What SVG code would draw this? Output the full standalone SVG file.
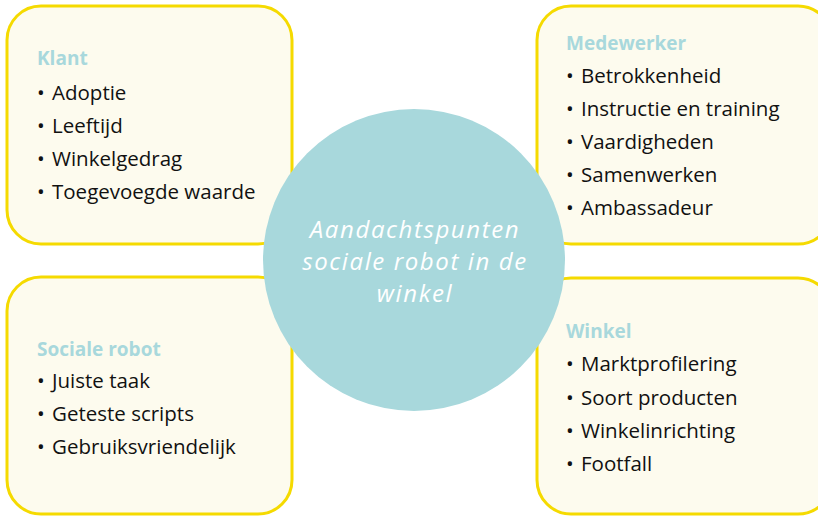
<svg xmlns="http://www.w3.org/2000/svg" width="818" height="516" viewBox="0 0 818 516">
<style>
.box{fill:#fdfbee;stroke:#f5da00;stroke-width:3}
.h{font-family:"Open Sans","Noto Sans",sans-serif;font-weight:bold;font-size:19px;fill:#a8d8dc}
.t{font-family:"Open Sans","Noto Sans",sans-serif;font-size:20.5px;fill:#111}
.c{font-family:"Open Sans","Noto Sans",sans-serif;font-style:italic;font-size:24px;letter-spacing:1.6px;fill:#ffffff;text-anchor:middle}
</style>
<rect width="818" height="516" fill="#ffffff"/>
<g id="connectors"></g>
<g id="klant">
<rect class="box" x="7" y="6" width="285" height="238" rx="34"/>
<text class="h" x="37" y="65">Klant</text>
<text class="t" x="37" y="100">•</text><text class="t" x="52" y="100">Adoptie</text>
<text class="t" x="37" y="133">•</text><text class="t" x="52" y="133">Leeftijd</text>
<text class="t" x="37" y="166">•</text><text class="t" x="52" y="166">Winkelgedrag</text>
<text class="t" x="37" y="199">•</text><text class="t" x="52" y="199">Toegevoegde waarde</text>
</g>
<g id="medewerker">
<rect class="box" x="537" y="6" width="295" height="238" rx="34"/>
<text class="h" x="566" y="50">Medewerker</text>
<text class="t" x="566" y="83">•</text><text class="t" x="581" y="83">Betrokkenheid</text>
<text class="t" x="566" y="116">•</text><text class="t" x="581" y="116">Instructie en training</text>
<text class="t" x="566" y="149">•</text><text class="t" x="581" y="149">Vaardigheden</text>
<text class="t" x="566" y="182">•</text><text class="t" x="581" y="182">Samenwerken</text>
<text class="t" x="566" y="215">•</text><text class="t" x="581" y="215">Ambassadeur</text>
</g>
<g id="sociale-robot">
<rect class="box" x="7" y="277" width="285" height="237" rx="34"/>
<text class="h" x="37" y="356">Sociale robot</text>
<text class="t" x="37" y="388">•</text><text class="t" x="52" y="388">Juiste taak</text>
<text class="t" x="37" y="421">•</text><text class="t" x="52" y="421">Geteste scripts</text>
<text class="t" x="37" y="454">•</text><text class="t" x="52" y="454">Gebruiksvriendelijk</text>
</g>
<g id="winkel">
<rect class="box" x="537" y="278" width="295" height="236" rx="34"/>
<text class="h" x="566" y="338">Winkel</text>
<text class="t" x="566" y="371">•</text><text class="t" x="581" y="371">Marktprofilering</text>
<text class="t" x="566" y="405">•</text><text class="t" x="581" y="405">Soort producten</text>
<text class="t" x="566" y="438">•</text><text class="t" x="581" y="438">Winkelinrichting</text>
<text class="t" x="566" y="471">•</text><text class="t" x="581" y="471">Footfall</text>
</g>
<g id="center">
<circle cx="414" cy="260" r="151" fill="#a8d8dc"/>
<text class="c" x="415" y="238">Aandachtspunten</text>
<text class="c" x="415" y="270">sociale robot in de</text>
<text class="c" x="415" y="302">winkel</text>
</g>
</svg>
